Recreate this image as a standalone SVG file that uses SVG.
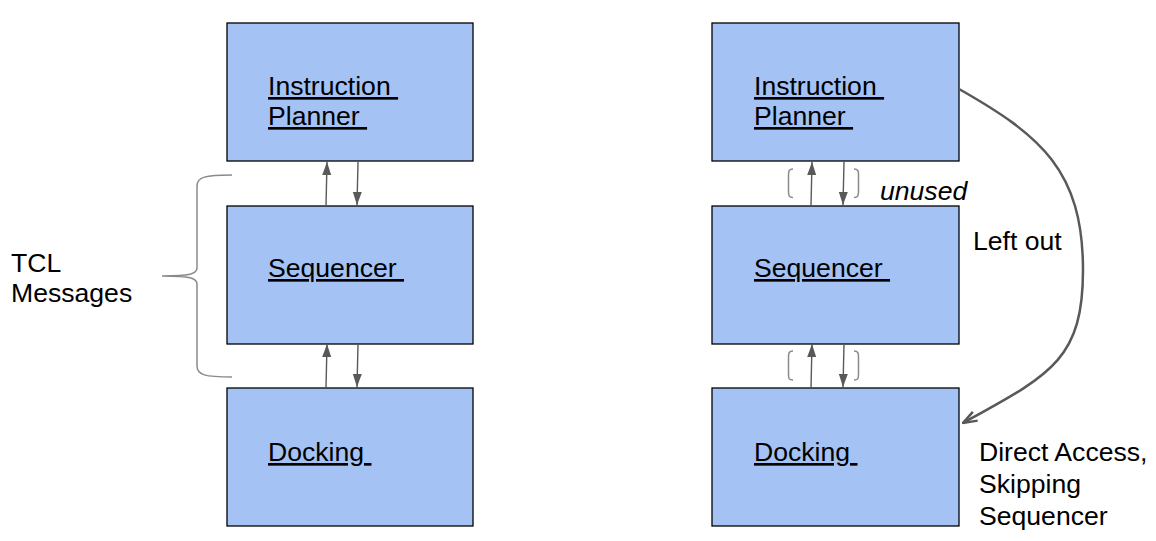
<svg xmlns="http://www.w3.org/2000/svg" width="1156" height="541" viewBox="0 0 1156 541">
<defs>
<style>
.box{fill:#a4c2f4;stroke:#000;stroke-width:1.3}
.t{font-family:"Liberation Sans",Arial,sans-serif;font-size:26.6px;fill:#000;white-space:pre}
.u{text-decoration:underline}
.it{font-style:italic}
.ar{stroke:#595959;stroke-width:1.4;fill:none;marker-end:url(#ah)}
.br{stroke:#8a8a8a;stroke-width:1.5;fill:none}
.cv{stroke:#595959;stroke-width:2.5;fill:none}
</style>
<marker id="ah" markerUnits="userSpaceOnUse" viewBox="0 0 13 10" refX="13" refY="5" markerWidth="13" markerHeight="10" orient="auto">
<path d="M0,0.5 L13,5 L0,9.5 Z" fill="#595959"/>
</marker>
<marker id="ah2" markerUnits="userSpaceOnUse" viewBox="0 0 16 12" refX="15" refY="6" markerWidth="16" markerHeight="12" orient="auto">
<path d="M1,1 L15,6 L1,11" fill="none" stroke="#595959" stroke-width="2.5" stroke-linejoin="miter"/>
</marker>
</defs>
<rect width="1156" height="541" fill="#fff"/>

<g id="left-planner">
<rect class="box" x="227" y="23" width="246" height="138"/>
<text class="t u" x="268" y="95" xml:space="preserve">Instruction </text>
<text class="t u" x="268" y="125" xml:space="preserve">Planner </text>
</g>
<g id="left-sequencer">
<rect class="box" x="227" y="206" width="246" height="138"/>
<text class="t u" x="268" y="277" xml:space="preserve">Sequencer </text>
</g>
<g id="left-docking">
<rect class="box" x="227" y="388" width="246" height="138"/>
<text class="t u" x="268" y="461" xml:space="preserve">Docking </text>
</g>

<g id="right-planner">
<rect class="box" x="712" y="23" width="247" height="138"/>
<text class="t u" x="754" y="95" xml:space="preserve">Instruction </text>
<text class="t u" x="754" y="125" xml:space="preserve">Planner </text>
</g>
<g id="right-sequencer">
<rect class="box" x="712" y="206" width="247" height="138"/>
<text class="t u" x="754" y="277" xml:space="preserve">Sequencer </text>
</g>
<g id="right-docking">
<rect class="box" x="712" y="388" width="247" height="138"/>
<text class="t u" x="754" y="461" xml:space="preserve">Docking </text>
</g>

<g id="connectors">
<line class="ar" x1="326" y1="206" x2="327" y2="162"/>
<line class="ar" x1="358" y1="162" x2="357" y2="205"/>
<line class="ar" x1="326" y1="388" x2="327" y2="344"/>
<line class="ar" x1="358" y1="344" x2="357" y2="387"/>
<line class="ar" x1="811" y1="206" x2="812" y2="162"/>
<line class="ar" x1="844" y1="162" x2="843" y2="205"/>
<line class="ar" x1="811" y1="388" x2="812" y2="344"/>
<line class="ar" x1="844" y1="344" x2="843" y2="387"/>
<path class="cv" marker-end="url(#ah2)" d="M959,89 C1040,135 1083,170 1083,270 C1083,360 1050,375 963,423"/>
</g>

<g id="brace">
<path class="br" d="M232,175 C205,175 197,177 197,186 L197,268 C197,274 190,276 162,276 C190,276 197,278 197,284 L197,366 C197,375 205,377 232,377"/>
</g>
<g id="brackets">
<path class="br" d="M793,169 C789,169 788.5,171 788.5,175 L788.5,191 C788.5,196 789,197.5 793,197.5"/>
<path class="br" d="M854,169 C858,169 858.5,171 858.5,175 L858.5,191 C858.5,196 858,197.5 854,197.5"/>
<path class="br" d="M793,351 C789,351 788.5,353 788.5,357 L788.5,374 C788.5,379 789,380 793,380"/>
<path class="br" d="M854,351 C858,351 858.5,353 858.5,357 L858.5,374 C858.5,379 858,380 854,380"/>
</g>

<g id="labels">
<text class="t" x="11" y="272">TCL</text>
<text class="t" x="11" y="302">Messages</text>
<text class="t it" x="880" y="200">unused</text>
<text class="t" x="973" y="250">Left out</text>
<text class="t" x="979" y="461">Direct Access,</text>
<text class="t" x="979" y="493">Skipping</text>
<text class="t" x="979" y="525">Sequencer</text>
</g>
</svg>
